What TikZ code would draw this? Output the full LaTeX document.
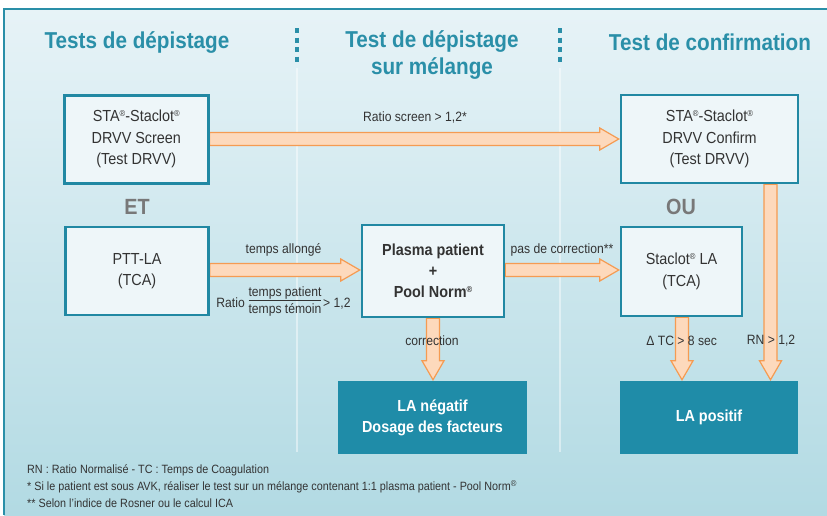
\documentclass[tikz,border=0pt]{standalone}
\usepackage{fontspec}
\setmainfont{Liberation Sans}[FakeStretch=0.9]
\usetikzlibrary{calc}
\definecolor{teal1}{HTML}{2A8FA8}
\definecolor{boxborder}{HTML}{2188A3}
\definecolor{boxfill}{HTML}{EEF6F9}
\definecolor{darkbox}{HTML}{1F8CA8}
\definecolor{txt}{HTML}{333333}
\definecolor{grey1}{HTML}{787878}
\definecolor{peach}{HTML}{FDD9BC}
\definecolor{orangeline}{HTML}{F59B52}
\definecolor{bgtop}{HTML}{E7F3F7}
\definecolor{bgbot}{HTML}{B2DAE3}
\pgfdeclarelayer{bg}
\pgfdeclarelayer{arrows}
\pgfsetlayers{bg,arrows,main}
\tikzset{
  box/.style={draw=boxborder, line width=2.5pt, fill=boxfill, inner sep=0pt,
    align=center, text=txt, font=\fontsize{16}{21.5}\selectfont},
  resbox/.style={fill=darkbox, inner sep=0pt, align=center, text=white,
    font=\fontsize{16}{21}\selectfont\bfseries},
  title/.style={text=teal1, align=center, font=\fontsize{23}{27}\selectfont\bfseries},
  conj/.style={text=grey1, font=\fontsize{22}{26}\selectfont\bfseries},
  lbl/.style={text=txt, inner sep=0pt, font=\fontsize{13.5}{16}\selectfont},
  note/.style={text=txt, anchor=west, inner sep=0pt, font=\fontsize{12}{14}\selectfont},
  blockarr/.style={fill=peach, draw=orangeline, line width=1.2pt, line join=miter},
  sepdash/.style={draw=teal1, line width=3.5pt, dash pattern=on 5pt off 4.5pt},
  sepline/.style={draw=white, opacity=0.45, line width=1.5pt}
}
\newcommand\harr[3]{%
  \draw[blockarr] let \p1=(#1.east), \p2=(#2.west) in
   (\x1,-#3pt+6.5pt) -- (\x2-20pt,-#3pt+6.5pt) -- (\x2-20pt,-#3pt+11pt) --
   (\x2-1pt,-#3pt) -- (\x2-20pt,-#3pt-11pt) -- (\x2-20pt,-#3pt-6.5pt) --
   (\x1,-#3pt-6.5pt) -- cycle;}
\newcommand\varr[3]{%
  \draw[blockarr] let \p1=(#1.south), \p2=(#2.north) in
   (#3pt-6.5pt,\y1) -- (#3pt-6.5pt,\y2+20pt) -- (#3pt-11pt,\y2+20pt) --
   (#3pt,\y2+1pt) -- (#3pt+11pt,\y2+20pt) -- (#3pt+6.5pt,\y2+20pt) --
   (#3pt+6.5pt,\y1) -- cycle;}
\newcommand\reg{\raisebox{0.6ex}{\fontsize{8.5}{8.5}\selectfont ®}}
\begin{document}
\begin{tikzpicture}[x=1pt,y=1pt]
\useasboundingbox (0,0) rectangle (827,-515);
\begin{pgfonlayer}{bg}
  \fill[white] (0,0) rectangle (827,-515);
  \shade[top color=bgtop, bottom color=bgbot] (4,-9) rectangle (827,-515);
  \draw[teal1, line width=2pt] (4,-515) -- (4,-9) -- (827,-9);
  \draw[sepdash] (297,-28) -- (297,-64);
  \draw[sepline] (297,-68) -- (297,-452);
  \draw[sepdash] (560,-28) -- (560,-64);
  \draw[sepline] (560,-68) -- (560,-452);
\end{pgfonlayer}

% titles
\node[title] (t1) at (137,-42) {Tests de dépistage};
\node[title] (t2) at (432,-55) {Test de dépistage\\sur mélange};
\node[title] (t3) at (710,-42) {Test de confirmation};

% boxes
\node[box, minimum width=144pt, minimum height=88pt] (b1) at (136.3,-139.3)
  {STA\reg-Staclot\reg\\DRVV Screen\\(Test DRVV)};
\node[box, minimum width=143pt, minimum height=88pt] (b2) at (137,-271)
  {PTT-LA\\(TCA)};
\node[box, minimum width=142pt, minimum height=92pt, font=\fontsize{16}{21}\selectfont\bfseries] (b3) at (433,-271)
  {Plasma patient\\+\\Pool Norm\reg};
\node[box, minimum width=177pt, minimum height=88pt] (b4) at (709.5,-139)
  {STA\reg-Staclot\reg\\DRVV Confirm\\(Test DRVV)};
\node[box, minimum width=121pt, minimum height=89pt] (b5) at (681.5,-271.5)
  {Staclot\reg{} LA\\(TCA)};
\node[resbox, minimum width=189pt, minimum height=73pt] (b6) at (432.5,-417.5)
  {LA négatif\\Dosage des facteurs};
\node[resbox, minimum width=178pt, minimum height=73pt] (b7) at (709,-417.5)
  {LA positif};

\node[conj] (et) at (137,-207) {ET};
\node[conj] (ou) at (681,-207) {OU};

% arrows
\begin{pgfonlayer}{arrows}
  \harr{b1}{b4}{139}
  \harr{b2}{b3}{270}
  \harr{b3}{b5}{270}
  \varr{b3}{b6}{433}
  \varr{b5}{b7}{682}
  \varr{b4}{b7}{770.5}
\end{pgfonlayer}

% labels
\node[lbl] (l1) at (415,-117) {Ratio screen > 1,2*};
\node[lbl] (l2) at (283.5,-250) {temps allongé};
\node[lbl, anchor=east] (l3a) at (245,-303) {Ratio};
\node[lbl] (l3b) at (285,-302) {\begin{tabular}{@{}c@{}}temps patient\\[-1pt]\hline\rule{0pt}{13pt}temps témoin\end{tabular}};
\node[lbl, anchor=west] (l3c) at (323,-304) {> 1,2};
\node[lbl] (l4) at (562,-250) {pas de correction**};
\node[lbl] (l5) at (432,-341) {correction};
\node[lbl] (l6) at (681.7,-341) {Δ TC > 8 sec};
\node[lbl] (l7) at (771,-341) {RN > 1,2};

% notes
\node[note] (n1) at (27,-470) {RN : Ratio Normalisé - TC : Temps de Coagulation};
\node[note] (n2) at (27,-487) {* Si le patient est sous AVK, réaliser le test sur un mélange contenant 1:1 plasma patient - Pool Norm\reg};
\node[note] (n3) at (27,-503) {** Selon l’indice de Rosner ou le calcul ICA};
\end{tikzpicture}
\end{document}
